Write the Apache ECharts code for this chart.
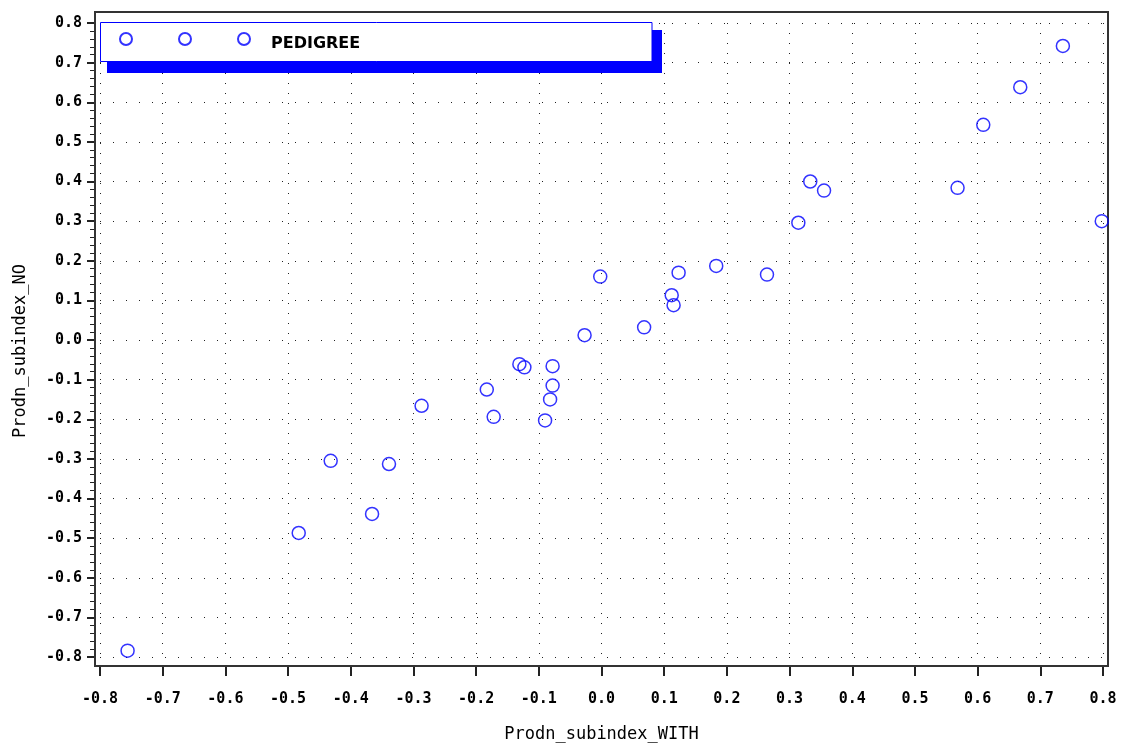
<!DOCTYPE html>
<html>
<head>
<meta charset="utf-8">
<script src="https://cdn.jsdelivr.net/npm/echarts@6/dist/echarts.min.js"></script>
<style>
  html, body { margin: 0; padding: 0; background: #fff; }
  #chart { width: 1123px; height: 745px; }
</style>
</head>
<body>
<div id="chart"></div>
<script>
// Production sub-index: with vs. without pedigree information
const seriesName = 'PEDIGREE';
const xAxisName = 'Prodn_subindex_WITH';
const yAxisName = 'Prodn_subindex_NO';

const subindexWith = [
  -0.756, -0.483, -0.432, -0.366, -0.339, -0.287, -0.183, -0.172, -0.131, -0.123,
  -0.078, -0.078, -0.082, -0.090, -0.027, -0.002, 0.068, 0.112, 0.115, 0.123,
  0.183, 0.264, 0.314, 0.333, 0.355, 0.568, 0.609, 0.668, 0.736, 0.798
];
const subindexNo = [
  -0.784, -0.487, -0.305, -0.439, -0.313, -0.166, -0.125, -0.194, -0.061, -0.069,
  -0.066, -0.115, -0.150, -0.203, 0.012, 0.160, 0.032, 0.113, 0.088, 0.170,
  0.187, 0.165, 0.296, 0.400, 0.377, 0.384, 0.543, 0.638, 0.742, 0.300
];

const axisMin = -0.8;
const axisMax = 0.8;
const axisStep = 0.1;

const points = subindexWith.map((x, i) => [x, subindexNo[i]]);

const fmt = v => {
  const s = (Math.round(v * 10) / 10).toFixed(1);
  return s === '-0.0' ? '0.0' : s;
};

const tickFont = {
  color: '#000',
  fontFamily: '"DejaVu Sans Mono", monospace',
  fontWeight: 'bold',
  fontSize: 15
};
const nameFont = {
  color: '#000',
  fontFamily: '"DejaVu Sans Mono", monospace',
  fontSize: 17
};

// three hollow circles used as the legend marker
const legendIcon = 'path://M0,6a6,6 0 1,0 12,0a6,6 0 1,0 -12,0' +
  'M59,6a6,6 0 1,0 12,0a6,6 0 1,0 -12,0' +
  'M118,6a6,6 0 1,0 12,0a6,6 0 1,0 -12,0';

const chart = echarts.init(document.getElementById('chart'), null, { renderer: 'canvas' });

chart.setOption({
  animation: false,
  backgroundColor: '#fff',
  grid: [
    { left: 100, right: 20, top: 23, bottom: 88, show: false, outerBoundsMode: 'none' },
    { left: 95, right: 15, top: 12, bottom: 79, show: true, outerBoundsMode: 'none',
      borderColor: '#333', borderWidth: 2, backgroundColor: 'transparent', z: 5 }
  ],
  // legend frame with its solid drop shadow
  graphic: [
    { type: 'rect', z: 3, silent: true,
      shape: { x: 107, y: 30, width: 555, height: 43 },
      style: { fill: '#0000ff' } },
    { type: 'rect', z: 3, silent: true,
      shape: { x: 100.5, y: 22.5, width: 551.5, height: 39 },
      style: { fill: '#ffffff', stroke: '#0000ff', lineWidth: 1 } }
  ],
  legend: {
    left: 119,
    top: 32,
    z: 10,
    orient: 'horizontal',
    padding: 0,
    itemWidth: 130,
    itemHeight: 12,
    data: [{ name: seriesName, icon: legendIcon }],
    formatter: name => '{t|' + name + '}',
    textStyle: {
      color: '#000',
      rich: {
        t: {
          color: '#000',
          fontFamily: '"DejaVu Sans", sans-serif',
          fontWeight: 'bold',
          fontSize: 16,
          padding: [9, 0, 0, 16]
        }
      }
    },
    selectedMode: false
  },
  xAxis: [
    {
      type: 'value',
      gridIndex: 0,
      min: axisMin,
      max: axisMax,
      interval: axisStep,
      offset: 9,
      name: xAxisName,
      nameLocation: 'middle',
      nameGap: 60,
      nameTextStyle: nameFont,
      axisLine: { show: false, onZero: false },
      axisTick: { show: true, length: 10, lineStyle: { color: '#222', width: 2 } },
      axisLabel: Object.assign({ margin: 26, formatter: fmt }, tickFont),
      splitLine: { show: true, lineStyle: { color: '#222', width: 1, type: [1, 9] } }
    },
    { type: 'value', gridIndex: 1, min: 0, max: 1, show: false }
  ],
  yAxis: [
    {
      type: 'value',
      gridIndex: 0,
      min: axisMin,
      max: axisMax,
      interval: axisStep,
      offset: 5,
      name: yAxisName,
      nameLocation: 'middle',
      nameGap: 66,
      nameTextStyle: Object.assign({ padding: [0, 22, 0, 0] }, nameFont),
      axisLine: { show: false, onZero: false },
      axisTick: { show: true, length: 8, lineStyle: { color: '#222', width: 2 } },
      minorTick: { show: true, splitNumber: 5, length: 5, lineStyle: { color: '#222', width: 1 } },
      axisLabel: Object.assign({ margin: 13, formatter: fmt }, tickFont),
      splitLine: { show: true, lineStyle: { color: '#222', width: 1, type: [1, 12] } }
    },
    { type: 'value', gridIndex: 1, min: 0, max: 1, show: false }
  ],
  series: [
    {
      name: seriesName,
      type: 'scatter',
      xAxisIndex: 0,
      yAxisIndex: 0,
      symbol: 'circle',
      symbolSize: 13,
      data: points,
      itemStyle: { color: 'transparent', borderColor: '#0000ff', borderWidth: 1.5 },
      emphasis: { disabled: true },
      z: 10
    }
  ]
});
</script>
</body>
</html>
